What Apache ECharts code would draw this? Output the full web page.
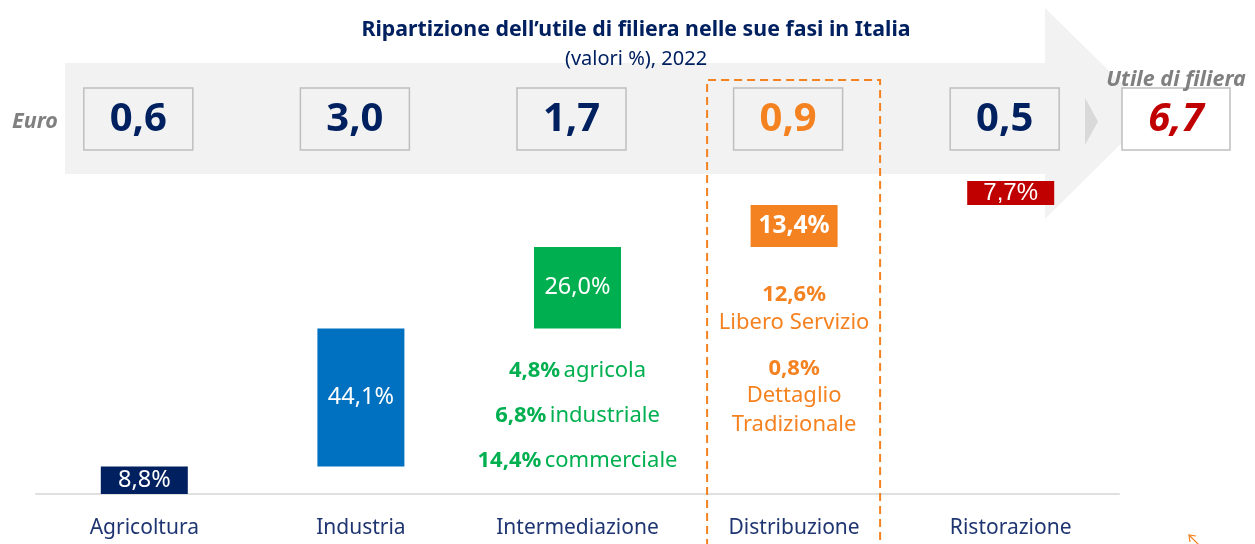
<!DOCTYPE html>
<html>
<head>
<meta charset="utf-8">
<script src="https://cdn.jsdelivr.net/npm/echarts@6/dist/echarts.min.js"></script>
<style>
  html, body { margin: 0; padding: 0; background: #ffffff; }
  #chart { width: 1255px; height: 544px; }
</style>
</head>
<body>
<div id="chart"></div>
<script>
// Fasi della filiera e quota di ciascuna sull'utile complessivo (%)
const categories = ['Agricoltura', 'Industria', 'Intermediazione', 'Distribuzione', 'Ristorazione'];
const shares = [8.8, 44.1, 26.0, 13.4, 7.7];
// Utile in euro per fase e totale di filiera
const euroValues = [0.6, 3.0, 1.7, 0.9, 0.5];
const euroTotal = 6.7;
// Dettaglio delle quote
const intermediazioneDetail = [[4.8, 'agricola'], [6.8, 'industriale'], [14.4, 'commerciale']];
const distribuzioneDetail = [[12.6, ['Libero Servizio']], [0.8, ['Dettaglio', 'Tradizionale']]];

const barColors = ['#002060', '#0070c0', '#00b050', '#f58220', '#c00000'];
const NAVY = '#002060';
const ORANGE = '#f58220';
const GREEN = '#00b050';
const GREY_TXT = '#808080';
const PANEL = '#f2f2f2';
const FONT = "'Noto Sans', sans-serif";

const fmt = v => v.toFixed(1).replace('.', ',');

// base invisibile del grafico a cascata: somma delle fasi precedenti
const bases = [];
let acc = 0;
shares.forEach(v => { bases.push(+acc.toFixed(1)); acc += v; });

const chart = echarts.init(document.getElementById('chart'), null, { renderer: 'canvas' });

const shareData = shares.map((v, i) => {
  const item = { value: v, itemStyle: { color: barColors[i] } };
  if (i === 3) item.label = { fontWeight: 'bold', fontSize: 24.5 };
  if (i === 4) item.label = { fontFamily: "'Liberation Sans', Arial, sans-serif", fontSize: 24 };
  return item;
});

chart.setOption({
  animation: false,
  grid: { left: 36, right: 136, top: 181, bottom: 50 },
  xAxis: {
    type: 'category',
    data: categories,
    axisLine: { lineStyle: { color: '#e0e0e0', width: 2 } },
    axisTick: { show: false },
    axisLabel: { color: '#1f3571', fontFamily: FONT, fontSize: 21, margin: 24 }
  },
  yAxis: { type: 'value', min: 0, max: 100, show: false, splitLine: { show: false } },
  series: [
    {
      type: 'bar', stack: 'filiera', barWidth: 87, silent: true,
      itemStyle: { color: 'transparent' }, data: bases
    },
    {
      type: 'bar', stack: 'filiera', barWidth: 87,
      data: shareData,
      label: {
        show: true, position: 'inside', color: '#ffffff',
        fontFamily: FONT, fontSize: 23.5,
        formatter: p => fmt(p.value) + '%'
      }
    }
  ]
});

// elementi grafici ancorati ai centri delle categorie
const cx = categories.map(c => chart.convertToPixel({ xAxisIndex: 0 }, c));
const g = [];

// freccia di fondo
g.push({
  type: 'polygon', z: 0, silent: true,
  shape: { points: [[65, 63], [1045, 63], [1045, 8], [1152, 113], [1045, 219], [1045, 174], [65, 174]] },
  style: { fill: PANEL }
});

// titolo
g.push({
  type: 'text', z: 6,
  style: {
    x: 636, y: 30, text: 'Ripartizione dell\u2019utile di filiera nelle sue fasi in Italia',
    fill: NAVY, font: 'bold 21.3px ' + FONT, textAlign: 'center', textVerticalAlign: 'middle'
  }
});
g.push({
  type: 'text', z: 6,
  style: {
    x: 636, y: 59, text: '(valori %), 2022',
    fill: NAVY, font: '20px ' + FONT, textAlign: 'center', textVerticalAlign: 'middle'
  }
});

g.push({
  type: 'text', z: 5,
  style: {
    x: 12, y: 122, text: 'Euro', fill: GREY_TXT, font: 'italic bold 21.5px ' + FONT,
    textAlign: 'left', textVerticalAlign: 'middle'
  }
});

const BOX_W = 109, BOX_H = 62, BOX_TOP = 88;
euroValues.forEach((v, i) => {
  const x0 = cx[i] - 6 - BOX_W / 2;
  g.push({
    type: 'rect', z: 5, shape: { x: x0, y: BOX_TOP, width: BOX_W, height: BOX_H },
    style: { fill: PANEL, stroke: '#bfbfbf', lineWidth: 1.5 }
  });
  g.push({
    type: 'text', z: 6,
    style: {
      x: x0 + BOX_W / 2, y: BOX_TOP + BOX_H / 2 + 1, text: fmt(v),
      fill: i === 3 ? ORANGE : NAVY, font: 'bold 40px ' + FONT,
      textAlign: 'center', textVerticalAlign: 'middle'
    }
  });
});

// freccina e totale di filiera
g.push({
  type: 'polygon', z: 5,
  shape: { points: [[1085, 98], [1098, 121.5], [1085, 145]] },
  style: { fill: '#d9d9d9' }
});
g.push({
  type: 'rect', z: 5, shape: { x: 1122, y: BOX_TOP, width: 108, height: BOX_H },
  style: { fill: '#ffffff', stroke: '#bfbfbf', lineWidth: 1.5 }
});
g.push({
  type: 'text', z: 6,
  style: {
    x: 1176, y: BOX_TOP + BOX_H / 2 + 1, text: fmt(euroTotal), fill: '#c00000',
    font: 'italic bold 40px ' + FONT, textAlign: 'center', textVerticalAlign: 'middle'
  }
});
g.push({
  type: 'text', z: 6,
  style: {
    x: 1176, y: 80, text: 'Utile di filiera', fill: GREY_TXT,
    font: 'italic bold 21.5px ' + FONT, textAlign: 'center', textVerticalAlign: 'middle'
  }
});

// riquadro tratteggiato sulla distribuzione
const dL = cx[3] - 87, dR = cx[3] + 86;
g.push({
  type: 'polyline', z: 4,
  shape: { points: [[dL, 560], [dL, 80], [dR, 80], [dR, 560]] },
  style: { stroke: ORANGE, lineWidth: 2, lineDash: [8, 5], fill: null }
});

// dettaglio intermediazione
const detailY = [371, 416, 461];
intermediazioneDetail.forEach((d, k) => {
  g.push({
    type: 'text', z: 6,
    style: {
      x: cx[2], y: detailY[k], text: '{b|' + fmt(d[0]) + '%} {r|' + d[1] + '}',
      textAlign: 'center', textVerticalAlign: 'middle',
      rich: {
        b: { fill: GREEN, fontFamily: FONT, fontWeight: 'bold', fontSize: 22 },
        r: { fill: GREEN, fontFamily: FONT, fontSize: 22 }
      }
    }
  });
});

// dettaglio distribuzione
const distLayout = [[295, [323]], [369, [396, 425]]];
distribuzioneDetail.forEach((d, k) => {
  g.push({
    type: 'text', z: 6,
    style: {
      x: cx[3], y: distLayout[k][0], text: fmt(d[0]) + '%', fill: ORANGE,
      font: 'bold 22px ' + FONT, textAlign: 'center', textVerticalAlign: 'middle'
    }
  });
  d[1].forEach((line, j) => {
    g.push({
      type: 'text', z: 6,
      style: {
        x: cx[3], y: distLayout[k][1][j], text: line, fill: ORANGE,
        font: '22px ' + FONT, textAlign: 'center', textVerticalAlign: 'middle'
      }
    });
  });
});

// piccolo segno arancione nell'angolo
g.push({
  type: 'polyline', z: 6,
  shape: { points: [[1196, 536], [1189, 535], [1190, 542]] },
  style: { stroke: ORANGE, lineWidth: 1.2, fill: null }
});
g.push({
  type: 'line', z: 6,
  shape: { x1: 1189, y1: 535, x2: 1199, y2: 545 },
  style: { stroke: ORANGE, lineWidth: 1.2 }
});

chart.setOption({ graphic: { elements: g } });
</script>
</body>
</html>
